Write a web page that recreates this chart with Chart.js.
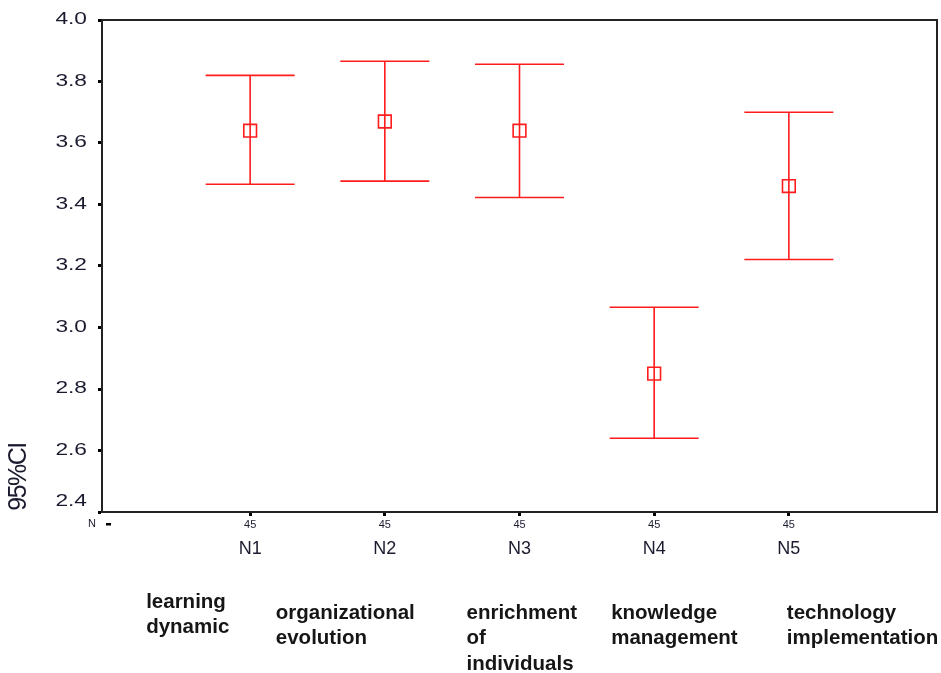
<!DOCTYPE html>
<html>
<head>
<meta charset="utf-8">
<script src="https://cdn.jsdelivr.net/npm/chart.js@4.4.1/dist/chart.umd.min.js"></script>
<style>
html,body{margin:0;padding:0;background:#fff;}
canvas{display:block;}
</style>
</head>
<body>
<canvas id="cv" width="941" height="673"></canvas>
<script>
// ═══ DATA ═══
var categories=['N1','N2','N3','N4','N5'];
var descriptions=[['learning','dynamic'],['organizational','evolution'],['enrichment','of','individuals'],['knowledge','management'],['technology','implementation']];
var counts=[45,45,45,45,45];
var means=[3.64,3.67,3.64,2.85,3.46];
var upper=[3.82,3.866,3.856,3.066,3.70];
var lower=[3.466,3.476,3.423,2.64,3.221];
var yTicks=[2.4,2.6,2.8,3.0,3.2,3.4,3.6,3.8,4.0];
var yTitle='95%CI';
var countRowLabel='N';

// layout bits (pixels, not data)
var descOffX=[-104,-109,-53,-43,-2];
var descTopY=[602,613,613,613,613];
var RED='rgb(255,28,28)';
var TXT='#1b1b30';
var FAM='"Liberation Sans", Arial, sans-serif';

var pts=means.map(function(m,i){return{x:i+1,y:m};});

// error bars + frame + extra labels
var extras={
  id:'extras',
  beforeDatasetsDraw:function(ch){
    var c=ch.ctx,xs=ch.scales.x,ys=ch.scales.y;
    c.save();c.strokeStyle=RED;c.lineWidth=1.6;
    for(var i=0;i<means.length;i++){
      var px=xs.getPixelForValue(i+1),pu=ys.getPixelForValue(upper[i]),pl=ys.getPixelForValue(lower[i]);
      c.beginPath();
      c.moveTo(px,pu);c.lineTo(px,pl);
      c.moveTo(px-44.5,pu);c.lineTo(px+44.5,pu);
      c.moveTo(px-44.5,pl);c.lineTo(px+44.5,pl);
      c.stroke();
    }
    c.restore();
  },
  afterDraw:function(ch){
    var c=ch.ctx,a=ch.chartArea,xs=ch.scales.x,ys=ch.scales.y;
    c.save();
    // top + right frame
    c.strokeStyle='#222';c.lineWidth=2;
    c.beginPath();c.moveTo(a.left,a.top);c.lineTo(a.right,a.top);c.lineTo(a.right,a.bottom);c.stroke();
    // y tick labels (wide, SPSS look)
    c.fillStyle=TXT;c.font='16px '+FAM;c.textAlign='right';c.textBaseline='middle';
    yTicks.forEach(function(v){
      var py=Math.min(ys.getPixelForValue(v),a.bottom-10);
      c.save();c.translate(87,py);c.scale(1.42,1);c.fillText(v.toFixed(1),0,0);c.restore();
    });
    // N row label
    c.font='11px '+FAM;c.textAlign='left';
    c.fillText(countRowLabel,88,524);
    c.fillStyle='#000';c.fillRect(106,523,5,2.5);
    // category names
    c.fillStyle=TXT;c.font='18px '+FAM;c.textAlign='center';
    categories.forEach(function(n,i){c.fillText(n,xs.getPixelForValue(i+1),549);});
    // descriptions
    c.font='bold 20.5px '+FAM;c.textAlign='left';c.fillStyle='#161616';
    descriptions.forEach(function(lines,i){
      var x0=xs.getPixelForValue(i+1)+descOffX[i];
      lines.forEach(function(s,j){c.fillText(s,x0,descTopY[i]+j*25.5);});
    });
    // y title
    c.translate(19,477);c.rotate(-Math.PI/2);
    c.font='25px '+FAM;c.textAlign='center';c.fillStyle=TXT;
    if('letterSpacing' in c)c.letterSpacing='-1.5px';
    c.fillText(yTitle,0,0);
    c.restore();
  }
};

new Chart(document.getElementById('cv'),{
  type:'scatter',
  data:{datasets:[{data:pts,pointStyle:'rect',pointRadius:9,pointHoverRadius:9,
    borderColor:RED,backgroundColor:'rgba(0,0,0,0)',borderWidth:1.6}]},
  options:{
    responsive:false,animation:false,
    layout:{autoPadding:false,padding:{top:20,right:4,left:0,bottom:0}},
    plugins:{legend:{display:false},tooltip:{enabled:false}},
    scales:{
      x:{type:'linear',min:-0.1,max:6.1,
        afterBuildTicks:function(s){s.ticks=counts.map(function(_,i){return{value:i+1};});},
        afterFit:function(s){s.height=161;s.paddingLeft=0;s.paddingRight=0;},
        ticks:{autoSkip:false,maxRotation:0,padding:2,color:TXT,
          font:{size:11,family:FAM},
          callback:function(v){return String(counts[v-1]);}},
        grid:{display:true,drawOnChartArea:false,tickLength:4,tickWidth:3,tickColor:'#000'},
        border:{display:true,color:'#222',width:2}},
      y:{type:'linear',min:2.4,max:4.0,
        afterBuildTicks:function(s){s.ticks=yTicks.map(function(v){return{value:v};});},
        afterFit:function(s){s.width=102;s.paddingTop=0;s.paddingBottom=0;},
        ticks:{display:false},
        grid:{display:true,drawOnChartArea:false,tickLength:4,tickWidth:3,tickColor:'#000'},
        border:{display:true,color:'#222',width:2}}
    }
  },
  plugins:[extras]
});
</script>
</body>
</html>
